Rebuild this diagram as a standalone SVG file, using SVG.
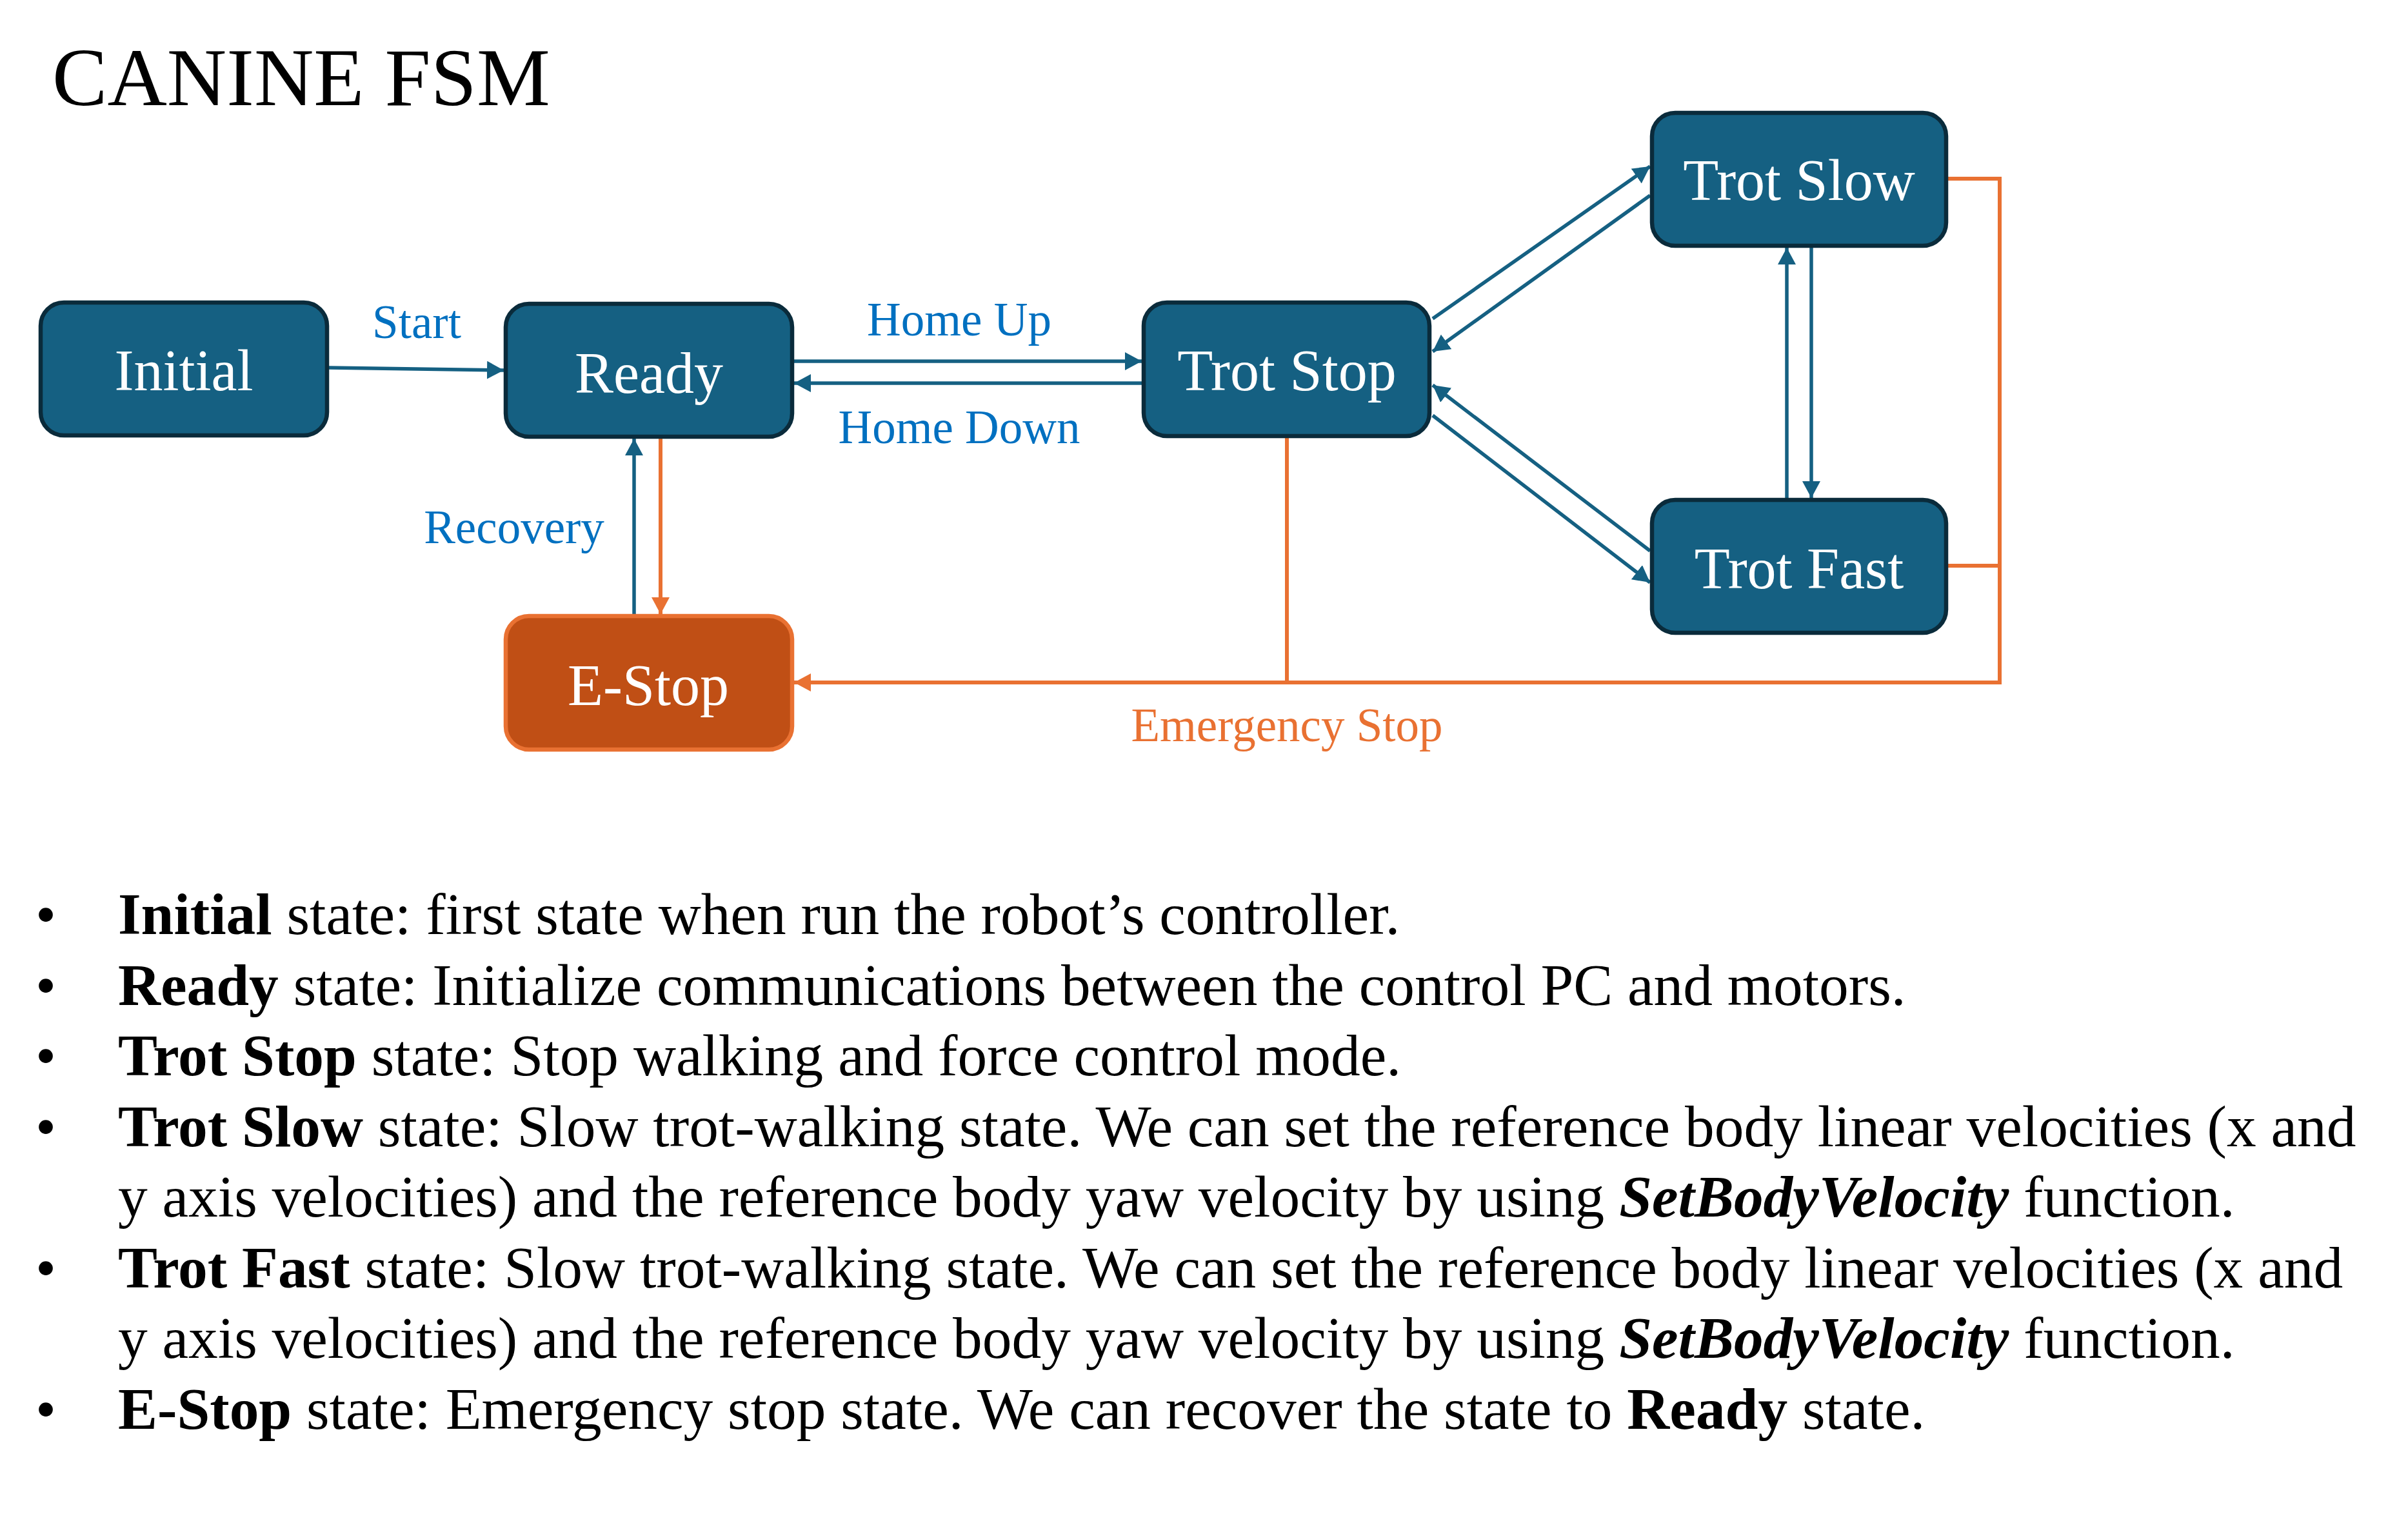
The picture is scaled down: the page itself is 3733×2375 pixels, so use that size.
<svg xmlns="http://www.w3.org/2000/svg" width="3733" height="2375" viewBox="0 0 3733 2375">
<style>
text{font-family:"Liberation Serif","Times New Roman",serif}
.node{fill:#156082;stroke:#0A2B3B;stroke-width:6.5}
.estop{fill:#C04F15;stroke:#E97132;stroke-width:6.5}
.nl{fill:#FFFFFF;font-size:90px;text-anchor:middle}
.el{fill:#0070C0;font-size:73px;text-anchor:middle}
.eo{fill:#E97132;font-size:73px;text-anchor:middle}
.cb{fill:none;stroke:#156082;stroke-width:5.5}
.co{fill:none;stroke:#E97132;stroke-width:6}
.body{fill:#000000;font-size:91.4px}
.b{font-weight:bold}
.bi{font-weight:bold;font-style:italic}
</style>
<defs>
<marker id="ab" markerUnits="userSpaceOnUse" markerWidth="28" markerHeight="28" refX="26" refY="14" orient="auto">
<path d="M0,0 L26,14 L0,28 z" fill="#156082"/>
</marker>
<marker id="ao" markerUnits="userSpaceOnUse" markerWidth="28" markerHeight="28" refX="26" refY="14" orient="auto">
<path d="M0,0 L26,14 L0,28 z" fill="#E97132"/>
</marker>
</defs>
<rect width="3733" height="2375" fill="#FFFFFF"/>
<text x="81" y="163" font-size="128" fill="#000000">CANINE FSM</text>

<g id="connectors">
<line class="cb" x1="510" y1="570" x2="781" y2="574" marker-end="url(#ab)"/>
<line class="cb" x1="1231" y1="560" x2="1770" y2="560" marker-end="url(#ab)"/>
<line class="cb" x1="1770" y1="594" x2="1231" y2="594" marker-end="url(#ab)"/>
<line class="cb" x1="983" y1="952" x2="983" y2="680" marker-end="url(#ab)"/>
<line class="co" x1="1024" y1="680" x2="1024" y2="952" marker-end="url(#ao)"/>
<line class="cb" x1="2221" y1="494" x2="2558" y2="258" marker-end="url(#ab)"/>
<line class="cb" x1="2558" y1="303" x2="2221" y2="545" marker-end="url(#ab)"/>
<line class="cb" x1="2558" y1="854" x2="2221" y2="597" marker-end="url(#ab)"/>
<line class="cb" x1="2221" y1="644" x2="2558" y2="903" marker-end="url(#ab)"/>
<line class="cb" x1="2770" y1="772" x2="2770" y2="384" marker-end="url(#ab)"/>
<line class="cb" x1="2808" y1="384" x2="2808" y2="772" marker-end="url(#ab)"/>
<polyline class="co" points="3020,277 3100,277 3100,1058 1231,1058" marker-end="url(#ao)"/>
<line class="co" x1="3020" y1="877" x2="3100" y2="877"/>
<line class="co" x1="1995" y1="679" x2="1995" y2="1058"/>
<text class="el" x="646" y="524">Start</text>
<text class="el" x="1487" y="520">Home Up</text>
<text class="el" x="1487" y="687">Home Down</text>
<text class="el" x="797" y="842">Recovery</text>
<text class="eo" x="1995" y="1149">Emergency Stop</text>
</g>

<g id="initial">
<rect class="node" x="63" y="469" width="444" height="206" rx="36"/>
<text class="nl" x="285" y="605">Initial</text>
</g>
<g id="ready">
<rect class="node" x="784" y="471" width="444" height="206" rx="36"/>
<text class="nl" x="1006" y="609">Ready</text>
</g>
<g id="estop">
<rect class="estop" x="784" y="955" width="444" height="207" rx="36"/>
<text class="nl" x="1005" y="1093">E-Stop</text>
</g>
<g id="trotstop">
<rect class="node" x="1773" y="469" width="443" height="207" rx="36"/>
<text class="nl" x="1995" y="605">Trot Stop</text>
</g>
<g id="trotslow">
<rect class="node" x="2561" y="175" width="456" height="206" rx="36"/>
<text class="nl" x="2789" y="310">Trot Slow</text>
</g>
<g id="trotfast">
<rect class="node" x="2561" y="775" width="456" height="206" rx="36"/>
<text class="nl" x="2789" y="912">Trot Fast</text>
</g>

<g id="description" class="body">
<text class="body" x="71" y="1448" text-anchor="middle">•</text>
<text class="body" x="71" y="1557.5" text-anchor="middle">•</text>
<text class="body" x="71" y="1667" text-anchor="middle">•</text>
<text class="body" x="71" y="1776.5" text-anchor="middle">•</text>
<text class="body" x="71" y="1995.5" text-anchor="middle">•</text>
<text class="body" x="71" y="2214.5" text-anchor="middle">•</text>
<text class="body" x="183" y="1448"><tspan class="b">Initial</tspan> state: first state when run the robot’s controller.</text>
<text class="body" x="183" y="1557.5"><tspan class="b">Ready</tspan> state: Initialize communications between the control PC and motors.</text>
<text class="body" x="183" y="1667"><tspan class="b">Trot Stop</tspan> state: Stop walking and force control mode.</text>
<text class="body" x="183" y="1776.5"><tspan class="b">Trot Slow</tspan> state: Slow trot-walking state. We can set the reference body linear velocities (x and</text>
<text class="body" x="183" y="1886">y axis velocities) and the reference body yaw velocity by using <tspan class="bi">SetBodyVelocity</tspan> function.</text>
<text class="body" x="183" y="1995.5"><tspan class="b">Trot Fast</tspan> state: Slow trot-walking state. We can set the reference body linear velocities (x and</text>
<text class="body" x="183" y="2105">y axis velocities) and the reference body yaw velocity by using <tspan class="bi">SetBodyVelocity</tspan> function.</text>
<text class="body" x="183" y="2214.5"><tspan class="b">E-Stop</tspan> state: Emergency stop state. We can recover the state to <tspan class="b">Ready</tspan> state.</text>
</g>
</svg>
